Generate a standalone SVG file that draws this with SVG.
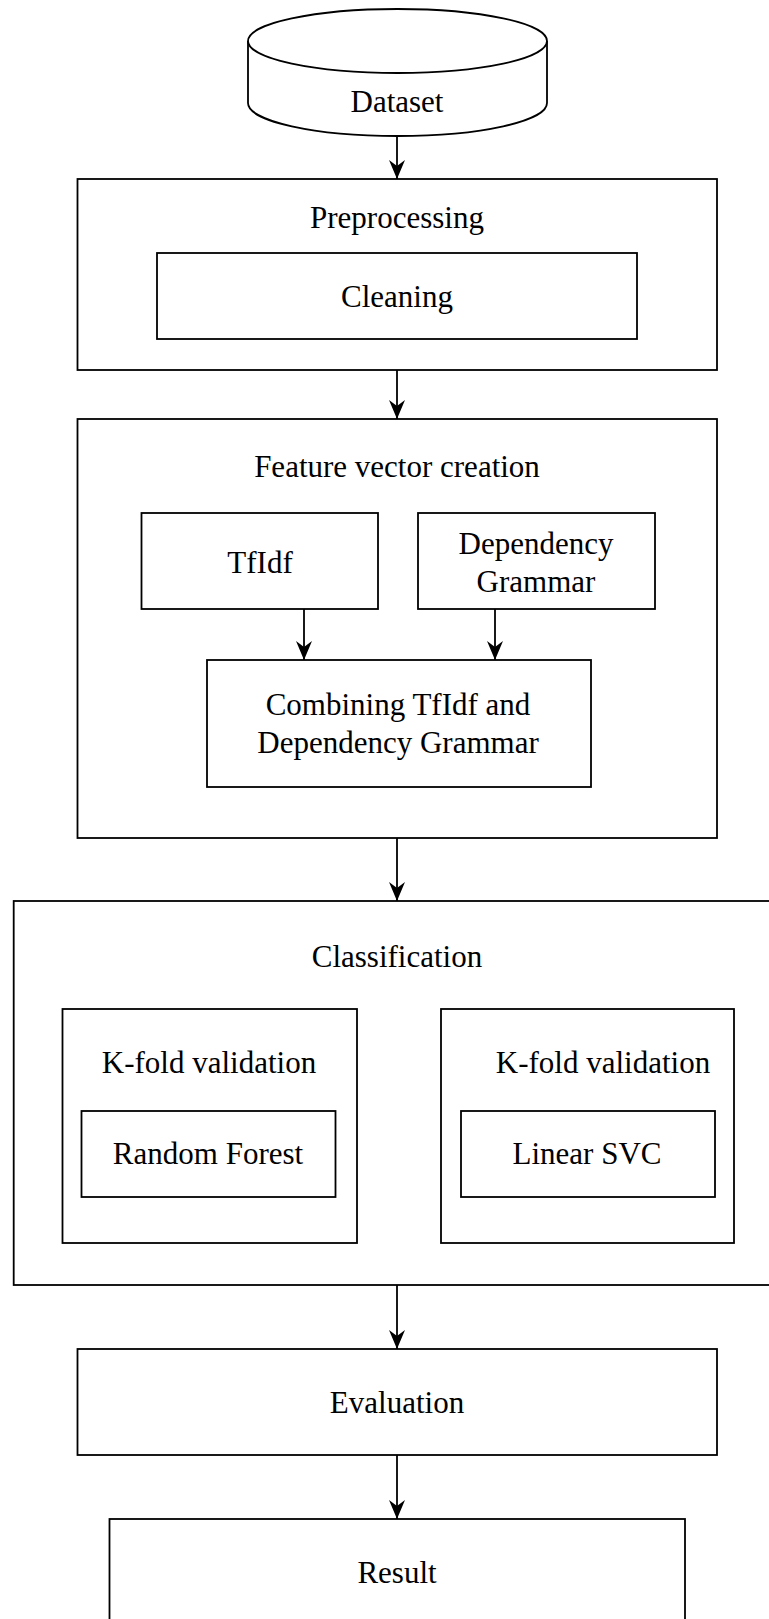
<svg xmlns="http://www.w3.org/2000/svg" width="769" height="1619" viewBox="0 0 769 1619">
<style>
.box{fill:#fff;stroke:#000;stroke-width:1.8}
.t{font-family:"Liberation Serif","Times New Roman",serif;font-size:31px;fill:#000;text-anchor:middle}
.c{stroke:#000;stroke-width:1.8;fill:none}
</style>
<defs>
<marker id="arr" viewBox="-20 -9 21 18" refX="0" refY="0" markerWidth="21" markerHeight="18" markerUnits="userSpaceOnUse" orient="auto">
<path d="M0,0 L-19,-8 L-13,0 L-19,8 Z" fill="#000"/>
</marker>
</defs>
<rect width="769" height="1619" fill="#fff"/>
<g id="dataset">
<path class="box" d="M248,41 L248,103 A149.5,33 0 0 0 547,103 L547,41"/>
<ellipse class="box" cx="397.5" cy="41" rx="149.5" ry="32"/>
<text class="t" x="397" y="112">Dataset</text>
</g>
<g id="preprocessing">
<rect class="box" x="77.5" y="179" width="639.5" height="191"/>
<text class="t" x="397" y="228">Preprocessing</text>
</g>
<g id="cleaning">
<rect class="box" x="157" y="253" width="480" height="86"/>
<text class="t" x="397" y="307">Cleaning</text>
</g>
<g id="feature">
<rect class="box" x="77.5" y="419" width="639.5" height="419"/>
<text class="t" x="397" y="477">Feature vector creation</text>
</g>
<g id="tfidf">
<rect class="box" x="141.5" y="513" width="236.5" height="96"/>
<text class="t" x="260" y="573">TfIdf</text>
</g>
<g id="depgram">
<rect class="box" x="418" y="513" width="237" height="96"/>
<text class="t" x="536" y="554">Dependency</text>
<text class="t" x="536" y="592">Grammar</text>
</g>
<g id="combining">
<rect class="box" x="207" y="660" width="384" height="127"/>
<text class="t" x="398" y="715">Combining TfIdf and</text>
<text class="t" x="398" y="753">Dependency Grammar</text>
</g>
<g id="classification">
<rect class="box" x="13.7" y="901" width="767" height="384"/>
<text class="t" x="397" y="967">Classification</text>
</g>
<g id="kfold1">
<rect class="box" x="62.5" y="1009" width="294.5" height="234"/>
<text class="t" x="209" y="1073">K-fold validation</text>
</g>
<g id="rf">
<rect class="box" x="81.5" y="1111" width="254" height="86"/>
<text class="t" x="208" y="1164">Random Forest</text>
</g>
<g id="kfold2">
<rect class="box" x="441" y="1009" width="293" height="234"/>
<text class="t" x="603" y="1073">K-fold validation</text>
</g>
<g id="svc">
<rect class="box" x="461" y="1111" width="254" height="86"/>
<text class="t" x="587" y="1164">Linear SVC</text>
</g>
<g id="evaluation">
<rect class="box" x="77.5" y="1349" width="639.5" height="106"/>
<text class="t" x="397" y="1413">Evaluation</text>
</g>
<g id="result">
<rect class="box" x="109.5" y="1519" width="575.5" height="120"/>
<text class="t" x="397" y="1583">Result</text>
</g>
<g id="connectors">
<line class="c" x1="397" y1="136" x2="397" y2="179" marker-end="url(#arr)"/>
<line class="c" x1="397" y1="370" x2="397" y2="419" marker-end="url(#arr)"/>
<line class="c" x1="304" y1="609" x2="304" y2="660" marker-end="url(#arr)"/>
<line class="c" x1="495" y1="609" x2="495" y2="660" marker-end="url(#arr)"/>
<line class="c" x1="397" y1="838" x2="397" y2="901" marker-end="url(#arr)"/>
<line class="c" x1="397" y1="1285" x2="397" y2="1349" marker-end="url(#arr)"/>
<line class="c" x1="397" y1="1455" x2="397" y2="1519" marker-end="url(#arr)"/>
</g>
</svg>
